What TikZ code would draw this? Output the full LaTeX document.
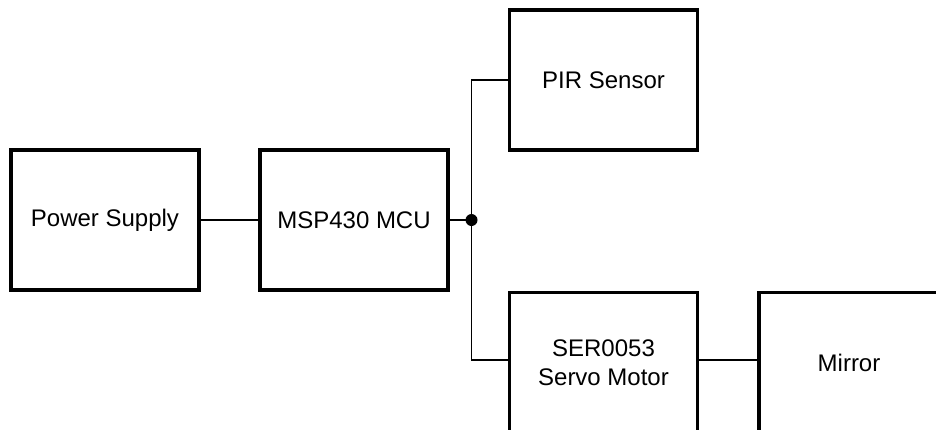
\documentclass[tikz,border=0pt]{standalone}
\usepackage{fontspec}
\setmainfont{Liberation Sans}
\usetikzlibrary{positioning}
\tikzset{
  block/.style={draw, line width=3.2pt, minimum width=188pt, minimum height=140pt,
    align=center, font=\fontsize{24}{28.5}\selectfont, inner sep=0pt},
  wire/.style={line width=1.4pt}
}
\begin{document}
\begin{tikzpicture}[x=1pt,y=-1pt]
	% page frame
	\useasboundingbox (0,0) rectangle (936,429);
	\clip (0,0) rectangle (936,429);
	
	% blocks
	\node[block] (supply) at (105,220) {Power Supply};
	\node[block] (mcu) at (354,220) {MSP430 MCU};
	\node[block] (pir) at (603.5,80) {PIR Sensor};
	\node[block] (servo) at (603.5,362.5) {SER0053\\Servo Motor};
	\node[block, minimum width=180pt] (mirror) at (849,362.5) {Mirror};
	
	% junction
	\coordinate (jn) at (471.5,220);
	\fill (jn) circle (6);
	
	% wires
	\draw[wire] (supply.east) -- (mcu.west);
	\draw[wire] (mcu.east) -- (jn);
	\draw[wire] (pir.west |- 0,80) -| (jn) |- (servo.west |- 0,360);
	\draw[wire] (servo.east |- 0,360) -- (mirror.west |- 0,360);
\end{tikzpicture}
\end{document}
